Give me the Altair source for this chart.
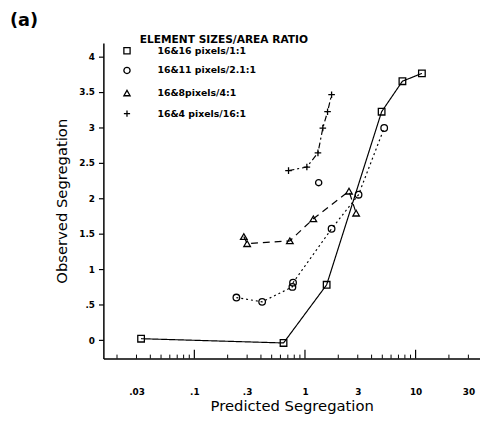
import altair as alt
import pandas as pd

# ---- data ----
labels = ["16&16 pixels/1:1", "16&11 pixels/2.1:1", "16&8pixels/4:1", "16&4 pixels/16:1"]
legend_title = "ELEMENT SIZES/AREA RATIO"

sq_x = [0.033, 0.64, 1.57, 4.93, 7.6, 11.4]
sq_y = [0.02, -0.04, 0.78, 3.22, 3.65, 3.76]

ci_x = [0.24, 0.41, 0.77, 0.78, 1.74, 3.05, 5.2]
ci_y = [0.60, 0.54, 0.75, 0.81, 1.57, 2.05, 2.99]

tr_x = [0.28, 0.30, 0.73, 1.19, 2.5, 2.9]
tr_y = [1.46, 1.36, 1.40, 1.71, 2.10, 1.79]

pl_x = [0.71, 1.04, 1.31, 1.45, 1.60, 1.74]
pl_y = [2.39, 2.44, 2.64, 2.99, 3.22, 3.46]

extra_x = [1.33]
extra_y = [2.22]

x_label_vals = [0.03, 0.1, 0.3, 1, 3, 10, 30]
y_label_vals = [0, 0.5, 1, 1.5, 2, 2.5, 3, 3.5, 4]
minor_ticks = [0.02, 0.03, 0.04, 0.05, 0.06, 0.07, 0.08, 0.09,
               0.2, 0.3, 0.4, 0.5, 0.6, 0.7, 0.8, 0.9,
               2, 3, 4, 5, 6, 7, 8, 9, 20, 30]
major_ticks = [0.1, 1, 10]

rows = []
for name, xs, ys in [(labels[0], sq_x, sq_y), (labels[1], ci_x, ci_y),
                     (labels[2], tr_x, tr_y), (labels[3], pl_x, pl_y)]:
    for a, b in zip(xs, ys):
        rows.append({"series": name, "dash": name, "x": a, "y": b})
df = pd.DataFrame(rows)
df_extra = pd.DataFrame({"x": extra_x, "y": extra_y})
df_minor = pd.DataFrame({"t": minor_ticks})
df_major = pd.DataFrame({"t": major_ticks})

W, H = 383, 321
FONT = "DejaVu Sans"

xscale = alt.Scale(type="log", domain=[0.01506, 38.2], nice=False)
yscale = alt.Scale(domain=[-0.26, 4.19], nice=False, zero=False)

PLUS = "M-1,0L1,0M0,-1L0,1"
shapes = ["square", "circle", "triangle-up", PLUS]
dashes = [[1, 0], [2, 3], [7, 5], [6, 3, 2, 3]]

xaxis = alt.Axis(values=x_label_vals, ticks=False, grid=False, format="~g",
                 labelExpr="datum.value < 1 ? slice(datum.label, 1) : datum.label",
                 labelFont=FONT, labelFontSize=9, labelFontWeight="bold", labelColor="black",
                 labelPadding=30, domainColor="black", domainWidth=1.5,
                 title="Predicted Segregation", titleFont=FONT, titleFontSize=15,
                 titleFontWeight="normal", titleColor="black",
                 titleX=W / 2, titleY=48, titleBaseline="middle", titleAlign="center")
yaxis = alt.Axis(values=y_label_vals, grid=False, format=".1~f",
                 labelExpr="datum.value > 0 && datum.value < 1 ? slice(datum.label, 1) : datum.label",
                 tickSize=5, tickColor="black", tickWidth=1.2,
                 labelFont=FONT, labelFontSize=9, labelFontWeight="bold", labelColor="black",
                 labelPadding=4, domainColor="black", domainWidth=1.5,
                 title="Observed Segregation", titleFont=FONT, titleFontSize=15,
                 titleFontWeight="normal", titleColor="black",
                 titleX=-42, titleY=H / 2, titleAngle=-90, titleBaseline="middle",
                 titleAlign="center")

base = alt.Chart(df)

lines = base.mark_line(color="black", strokeWidth=1.2).encode(
    x=alt.X("x:Q", scale=xscale, axis=xaxis),
    y=alt.Y("y:Q", scale=yscale, axis=yaxis),
    detail="series:N",
    strokeDash=alt.StrokeDash("dash:N", scale=alt.Scale(domain=labels, range=dashes), legend=None),
)

points = base.mark_point(filled=False, color="black", strokeWidth=1.3, size=45, opacity=1).encode(
    x=alt.X("x:Q", scale=xscale),
    y=alt.Y("y:Q", scale=yscale),
    shape=alt.Shape("series:N", scale=alt.Scale(domain=labels, range=shapes), legend=None),
)

extra = alt.Chart(df_extra).mark_point(filled=False, color="black", strokeWidth=1.3,
                                       size=40, shape="circle", opacity=1).encode(
    x=alt.X("x:Q", scale=xscale), y=alt.Y("y:Q", scale=yscale))

tmin = alt.Chart(df_minor).mark_rule(color="black", strokeWidth=1).encode(
    x=alt.X("t:Q", scale=xscale), y=alt.value(H), y2=alt.value(H - 4))
tmaj = alt.Chart(df_major).mark_rule(color="black", strokeWidth=1.2).encode(
    x=alt.X("t:Q", scale=xscale), y=alt.value(H), y2=alt.value(H - 9))

# ---- hand-drawn legend (as in the original figure) ----
leg_layers = []
leg_title_layer = alt.Chart(pd.DataFrame({"t": [legend_title]})).mark_text(
    font=FONT, fontSize=10.8, fontWeight="bold", color="black", align="left", baseline="middle"
).encode(text="t:N", x=alt.value(37), y=alt.value(-3))
leg_layers.append(leg_title_layer)
row_y = [8, 28, 51, 72]
for lab, shp, ry in zip(labels, shapes, row_y):
    d = pd.DataFrame({"t": [lab]})
    leg_layers.append(alt.Chart(d).mark_point(
        filled=False, color="black", strokeWidth=1.3, size=40, shape=shp, opacity=1
    ).encode(x=alt.value(24), y=alt.value(ry)))
    leg_layers.append(alt.Chart(d).mark_text(
        font=FONT, fontSize=9.5, fontWeight="bold", color="black", align="left", baseline="middle"
    ).encode(text="t:N", x=alt.value(55), y=alt.value(ry)))

panel = alt.Chart(pd.DataFrame({"t": ["(a)"]})).mark_text(
    font=FONT, fontSize=18, fontWeight="bold", color="black", align="left", baseline="middle"
).encode(text="t:N", x=alt.value(-95), y=alt.value(-22))

chart = alt.layer(lines, points, extra, tmin, tmaj, panel, *leg_layers).properties(
    width=W, height=H,
    padding={"left": 97, "top": 32, "right": 0, "bottom": 60},
    autosize=alt.AutoSizeParams(type="none"),
).configure_view(stroke=None)

chart.save("out.html", embed_options={"renderer": "svg", "actions": False})
